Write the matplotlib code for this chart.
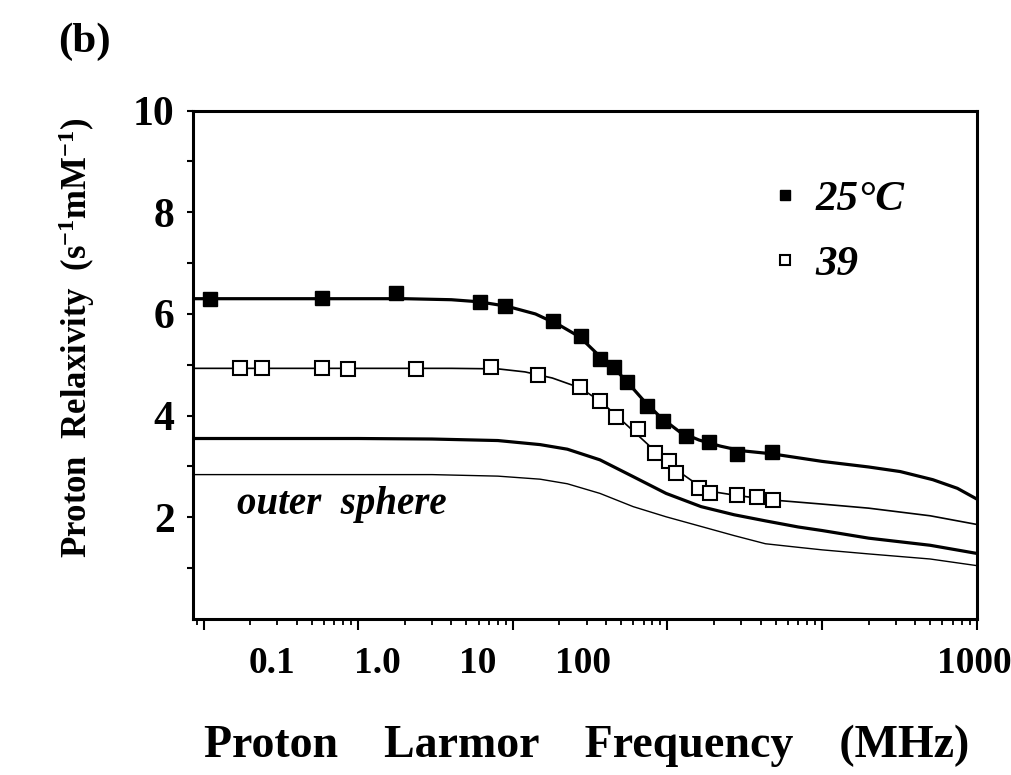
import matplotlib

matplotlib.use("Agg")
import matplotlib.pyplot as plt
from matplotlib.ticker import FixedLocator, LogLocator, NullFormatter

plt.rcParams["font.family"] = ["Liberation Serif", "DejaVu Serif"]
plt.rcParams["font.weight"] = "bold"
plt.rcParams["mathtext.fontset"] = "custom"
plt.rcParams["mathtext.rm"] = "Liberation Serif:bold"
plt.rcParams["mathtext.it"] = "Liberation Serif:italic:bold"
plt.rcParams["mathtext.bf"] = "Liberation Serif:bold"

# measured relaxivities (MHz, s^-1 mM^-1)
freq_25 = [0.011, 0.0585, 0.176, 0.61, 0.891, 1.81, 2.74, 3.66, 4.54, 5.48,
           7.42, 9.33, 13.1, 18.5, 28.3, 47.4]
r1_25 = [6.29, 6.32, 6.41, 6.23, 6.16, 5.87, 5.57, 5.12, 4.95, 4.67,
         4.18, 3.90, 3.59, 3.48, 3.25, 3.28]

freq_39 = [0.0173, 0.0239, 0.0585, 0.0861, 0.237, 0.721, 1.46, 2.72, 3.66,
           4.63, 6.49, 8.32, 10.3, 11.3, 16.0, 18.8, 28.3, 37.8, 48.0]
r1_39 = [4.94, 4.94, 4.94, 4.92, 4.92, 4.95, 4.80, 4.57, 4.28, 3.98,
         3.74, 3.26, 3.10, 2.88, 2.58, 2.47, 2.44, 2.40, 2.34]

# fitted profiles
fit_freq_25 = [0.0085, 0.05, 0.2, 0.4, 0.6, 0.8, 1.0, 1.4, 2.0, 2.7, 3.5, 4.5,
               5.5, 7.0, 9.0, 12, 16, 22, 30, 47, 100, 200, 320, 520, 750, 1000]
fit_r1_25 = [6.30, 6.30, 6.30, 6.28, 6.24, 6.18, 6.12, 6.00, 5.78, 5.55, 5.22,
             4.94, 4.66, 4.30, 3.97, 3.68, 3.52, 3.40, 3.31, 3.25, 3.10, 2.99,
             2.90, 2.74, 2.57, 2.36]

fit_freq_39 = [0.0085, 0.1, 0.4, 0.8, 1.2, 1.8, 2.7, 3.7, 4.6, 6.0, 8.0, 10,
               12.5, 16, 20, 28, 48, 100, 200, 500, 1000]
fit_r1_39 = [4.93, 4.93, 4.93, 4.92, 4.86, 4.74, 4.55, 4.28, 4.02, 3.70, 3.35,
             3.10, 2.85, 2.62, 2.50, 2.43, 2.34, 2.26, 2.18, 2.03, 1.86]

# outer-sphere contributions
os_freq = [0.0085, 0.1, 0.3, 0.8, 1.5, 2.25, 3.66, 6.0, 9.8, 16.5, 27, 43,
           70, 100, 200, 500, 1000]
os_r1_25 = [3.55, 3.55, 3.54, 3.51, 3.43, 3.34, 3.13, 2.80, 2.47, 2.21, 2.05,
            1.93, 1.81, 1.74, 1.59, 1.45, 1.29]
os_r1_39 = [2.84, 2.84, 2.84, 2.81, 2.75, 2.66, 2.47, 2.21, 2.01, 1.82, 1.64,
            1.48, 1.41, 1.36, 1.28, 1.18, 1.05]

x_labels = ["0.1", "1.0", "10", "100", "1000"]
x_label_pos = [0.101, 0.236, 0.364, 0.498, 0.997]
y_ticks = [1, 2, 3, 4, 5, 6, 7, 8, 9, 10]
y_labels = ["", "2", "", "4", "", "6", "", "8", "", "10"]

fig = plt.figure(figsize=(10.11, 7.75), dpi=100)
ax = fig.add_axes([0.1906, 0.2013, 0.7755, 0.656])

ax.plot(fit_freq_25, fit_r1_25, color="black", lw=2.3, zorder=2)
ax.plot(fit_freq_39, fit_r1_39, color="black", lw=1.2, zorder=2)
ax.plot(os_freq, os_r1_25, color="black", lw=2.3, zorder=2)
ax.plot(os_freq, os_r1_39, color="black", lw=1.0, zorder=2)

ax.plot(freq_25, r1_25, ls="none", marker="s", ms=10.5, mfc="black",
        mec="black", label="25°C", zorder=3)
ax.plot(freq_39, r1_39, ls="none", marker="s", ms=9.5, mfc="white",
        mec="black", mew=1.5, label="39", zorder=3)

ax.set_xscale("log")
ax.set_xlim(0.0085, 1000)
ax.set_ylim(0, 10)

ax.xaxis.set_major_locator(LogLocator(base=10, numticks=10))
ax.xaxis.set_minor_locator(LogLocator(base=10, subs=range(2, 10), numticks=20))
ax.xaxis.set_major_formatter(NullFormatter())
ax.xaxis.set_minor_formatter(NullFormatter())
for lab, pos in zip(x_labels, x_label_pos):
    ax.text(pos, -0.087, lab, transform=ax.transAxes, ha="center", va="center",
            fontsize=27, fontweight="bold")

ax.yaxis.set_major_locator(FixedLocator(y_ticks))
ax.set_yticklabels(y_labels)

ax.tick_params(axis="x", which="major", direction="out", length=8, width=1.5)
ax.tick_params(axis="x", which="minor", direction="out", length=4, width=1.3)
ax.tick_params(axis="y", direction="out", length=4, width=1.5, pad=9,
               labelsize=30)
for side in ax.spines.values():
    side.set_linewidth(2.2)

ax.text(0.056, 0.225, "outer  sphere", transform=ax.transAxes, fontsize=28,
        fontstyle="italic", fontweight="bold", ha="left", va="center")

ax.set_ylabel("Proton  Relaxivity  (s$^{-1}$mM$^{-1}$)", fontsize=25,
              fontweight="bold")
ax.yaxis.set_label_coords(-0.122, 0.553)
ax.set_xlabel("Proton    Larmor    Frequency    (MHz)", fontsize=33,
              fontweight="bold")
ax.xaxis.set_label_coords(0.503, -0.208)

leg = ax.legend(loc="upper left", bbox_to_anchor=(0.678, 0.939), frameon=False,
                handlelength=1.0, handletextpad=0.22, labelspacing=0.6,
                markerscale=0.75, prop={"family": "Liberation Serif",
                                        "style": "italic", "weight": "bold",
                                        "size": 31})

fig.text(0.057, 0.946, "(b)", fontsize=31, fontweight="bold", va="center")

fig.savefig("out.png", dpi=100)
